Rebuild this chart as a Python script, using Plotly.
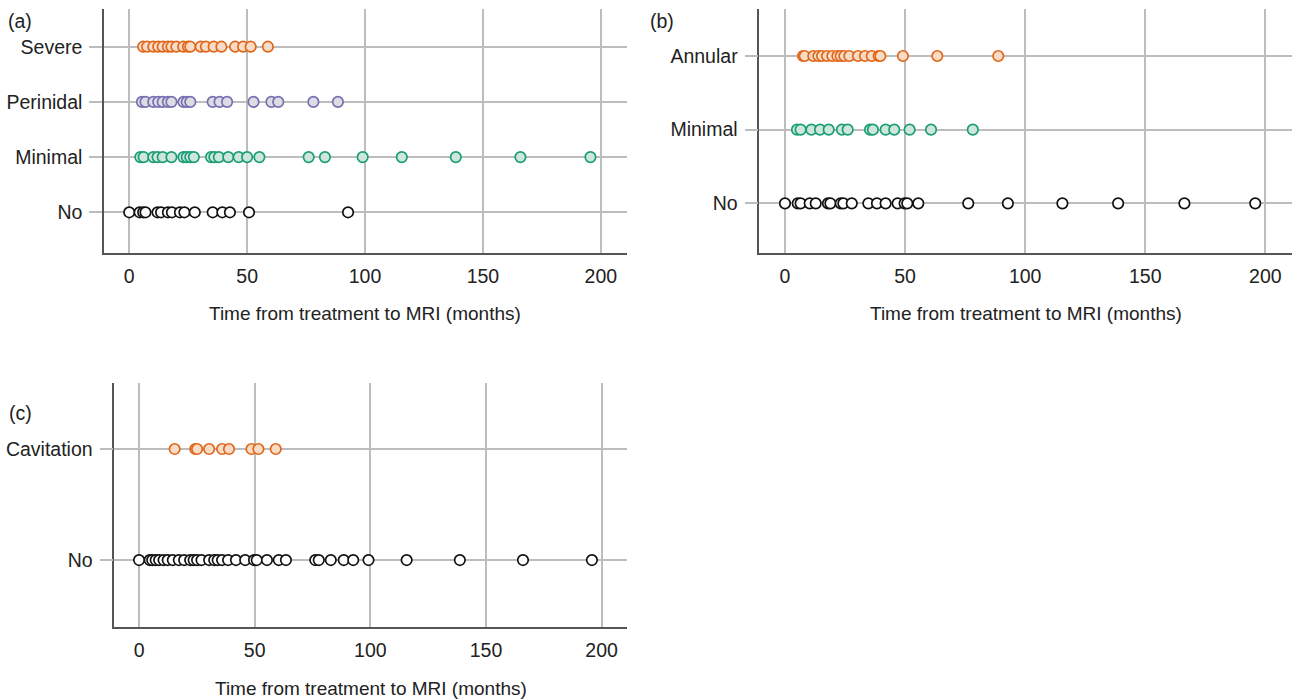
import plotly.graph_objects as go

# ---------------- data (months) ----------------
# Panel (a)
a_categories = ["No", "Minimal", "Perinidal", "Severe"]
a_no = [0, 4.4, 5.9, 6.9, 12.0, 13.5, 16.4, 18.1, 21.5, 23.4, 27.8, 35.4, 39.5, 42.7, 50.8, 92.8]
a_minimal = [4.7, 6.1, 10.2, 12.0, 14.2, 17.9, 23.0, 24.4, 25.9, 27.4, 34.7, 36.1, 38.0, 42.0,
             46.4, 50.0, 55.2, 76.1, 83.0, 99.0, 115.6, 138.5, 165.9, 195.6]
a_perinidal = [5.4, 6.9, 10.2, 12.3, 14.2, 16.4, 17.9, 23.0, 24.4, 25.9, 35.4, 38.3, 41.5,
               52.7, 60.3, 63.2, 78.1, 88.5]
a_severe = [5.9, 7.6, 10.2, 12.3, 14.2, 16.4, 17.9, 20.0, 22.9, 24.9, 25.9, 30.3, 32.5, 35.8,
            39.1, 44.9, 48.3, 51.5, 58.8]

# Panel (b)
b_categories = ["No", "Minimal", "Annular"]
b_no = [0, 5.3, 6.5, 10.3, 12.8, 17.9, 18.9, 23.2, 24.3, 27.8, 34.7, 38.3, 41.9, 46.9, 49.8,
        50.9, 55.5, 76.3, 92.8, 115.5, 138.7, 166.3, 195.8]
b_minimal = [5.0, 6.5, 11.0, 14.6, 18.2, 23.7, 26.1, 35.4, 36.6, 41.9, 45.5, 51.9, 60.8, 78.2]
b_annular = [7.5, 8.2, 11.8, 13.9, 15.4, 17.5, 19.7, 21.8, 23.2, 24.7, 26.8, 30.4, 33.3, 36.1,
             39.0, 39.7, 49.1, 63.4, 88.8]

# Panel (c)
c_categories = ["No", "Cavitation"]
c_no = [0, 4.6, 5.7, 7.2, 8.7, 10.6, 12.4, 14.6, 17.2, 19.5, 22.1, 23.6, 25.1, 27.0, 30.3, 32.5,
        34.0, 35.9, 38.5, 41.9, 45.9, 49.7, 50.9, 55.3, 60.4, 63.5, 76.2, 77.7, 82.9, 88.5, 92.6,
        99.2, 115.7, 138.7, 166.0, 195.8]
c_cavitation = [15.4, 24.3, 25.1, 30.3, 35.9, 38.9, 48.6, 51.6, 59.1]

x_ticks = [0, 50, 100, 150, 200]
x_title = "Time from treatment to MRI (months)"
panel_labels = ["(a)", "(b)", "(c)"]

# ---------------- styles ----------------
FONT = "Liberation Sans, Arial, Helvetica, sans-serif"
FS = 19.5
GRID = "#BDBDBD"
AXIS = "#555555"
styles = {
    "black": dict(line="#111111", fill="#FFFFFF"),
    "green": dict(line="#1B9E77", fill="#CFE7DB"),
    "purple": dict(line="#7570B3", fill="#DDDCE3"),
    "orange": dict(line="#E0661A", fill="#F9DCC6"),
}

W, H = 1294, 699
fig = go.Figure()


def add_points(values, yval, color, xa, ya):
    st = styles[color]
    fig.add_trace(go.Scatter(
        x=values, y=[yval] * len(values), mode="markers",
        marker=dict(symbol="circle", size=10.5, color=st["fill"],
                    line=dict(color=st["line"], width=1.7)),
        xaxis=xa, yaxis=ya, showlegend=False, hoverinfo="x"))


panels = [
    ("x", "y", a_categories, [a_no, a_minimal, a_perinidal, a_severe],
     ["black", "green", "purple", "orange"]),
    ("x2", "y2", b_categories, [b_no, b_minimal, b_annular],
     ["black", "green", "orange"]),
    ("x3", "y3", c_categories, [c_no, c_cavitation], ["black", "orange"]),
]
for xa, ya, cats, series, cols in panels:
    for i, (vals, col) in enumerate(zip(series, cols)):
        add_points(vals, i, col, xa, ya)

# domains in pixels -> paper
def px(xpix):
    return xpix / W

def py(ypix):
    return 1 - ypix / H

dom = {
    "a": dict(x=[px(104), px(627)], y=[py(253), py(9)], yr=[-0.737, 3.683]),
    "b": dict(x=[px(759.3), px(1292)], y=[py(253), py(9)], yr=[-0.674, 2.638]),
    "c": dict(x=[px(114.3), px(627.3)], y=[py(627.3), py(383.3)], yr=[-0.606, 1.592]),
}

xcommon = dict(range=[-10.7, 211.1], tickmode="array", tickvals=x_ticks,
               showgrid=True, gridcolor=GRID, gridwidth=1.6, zeroline=False,
               showline=True, linecolor=AXIS, linewidth=1.5, ticks="",
               ticklabelstandoff=5, tickfont=dict(family=FONT, size=FS, color="#222"),
               automargin=False, fixedrange=True)

def ycommon(cats, rng):
    return dict(range=rng, tickmode="array", tickvals=list(range(len(cats))), ticktext=cats,
                showgrid=True, gridcolor=GRID, gridwidth=1.6, zeroline=False,
                showline=True, linecolor=AXIS, linewidth=1.5,
                ticks="outside", ticklen=13, tickcolor=GRID, tickwidth=1.6,
                ticklabelstandoff=3, tickfont=dict(family=FONT, size=FS, color="#222"),
                automargin=False, fixedrange=True)

fig.update_layout(
    width=W, height=H, margin=dict(l=0, r=0, t=0, b=0, autoexpand=False),
    paper_bgcolor="white", plot_bgcolor="white",
    font=dict(family=FONT, size=FS, color="#222"),
    xaxis=dict(domain=dom["a"]["x"], anchor="y", **xcommon),
    yaxis=dict(domain=dom["a"]["y"], anchor="x", **ycommon(a_categories, dom["a"]["yr"])),
    xaxis2=dict(domain=dom["b"]["x"], anchor="y2", **xcommon),
    yaxis2=dict(domain=dom["b"]["y"], anchor="x2", **ycommon(b_categories, dom["b"]["yr"])),
    xaxis3=dict(domain=dom["c"]["x"], anchor="y3", **xcommon),
    yaxis3=dict(domain=dom["c"]["y"], anchor="x3", **ycommon(c_categories, dom["c"]["yr"])),
)

anns = []
# x-axis titles
for d, ypix in [("a", 313), ("b", 313), ("c", 688)]:
    anns.append(dict(text=x_title, xref="paper", yref="paper",
                     x=(dom[d]["x"][0] + dom[d]["x"][1]) / 2, y=py(ypix),
                     xanchor="center", yanchor="middle", showarrow=False,
                     font=dict(family=FONT, size=19, color="#222")))
# panel labels
for lab, (xp, yp) in zip(panel_labels, [(20, 20.7), (661.7, 20.7), (20, 413.3)]):
    anns.append(dict(text=lab, xref="paper", yref="paper", x=px(xp), y=py(yp),
                     xanchor="center", yanchor="middle", showarrow=False,
                     font=dict(family=FONT, size=FS, color="#222")))
fig.update_layout(annotations=anns)

fig.write_html("out.html", config={"displayModeBar": False},
               post_script="document.body.style.margin='0';document.body.style.overflow='hidden';")
